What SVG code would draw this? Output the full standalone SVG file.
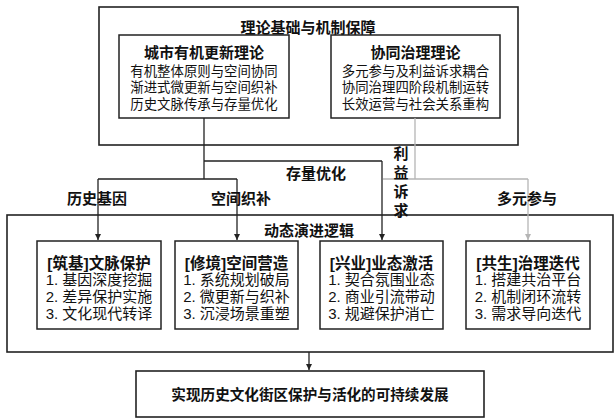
<svg xmlns="http://www.w3.org/2000/svg" width="615" height="420" viewBox="0 0 615 420">
<defs>
<style>
.box{fill:#fff;stroke:#222;stroke-width:1.6}
.sub{fill:#fff;stroke:#222;stroke-width:1.5}
.t{font-family:"Liberation Sans","Noto Sans CJK SC",sans-serif;fill:#111;text-anchor:middle;dominant-baseline:central}
.b{font-weight:bold}
.ln{fill:none;stroke:#222;stroke-width:1.3}
.gl{fill:none;stroke:#b5b5b5;stroke-width:1.3}
</style>
<marker id="ah" viewBox="0 0 8 8" refX="8" refY="4" markerWidth="6" markerHeight="6" orient="auto" markerUnits="userSpaceOnUse">
<path d="M0,0 L8,4 L0,8 z" fill="#222"/>
</marker>
<marker id="ahg" viewBox="0 0 8 8" refX="8" refY="4" markerWidth="6" markerHeight="6" orient="auto" markerUnits="userSpaceOnUse">
<path d="M0,0 L8,4 L0,8 z" fill="#b5b5b5"/>
</marker>
</defs>
<rect width="615" height="420" fill="#fff"/>

<g id="theory">
<rect class="box" x="99" y="7" width="419" height="138"/>
<text class="t b" x="308" y="27" font-size="15">理论基础与机制保障</text>
</g>
<g id="organic">
<rect class="sub" x="119" y="35" width="170" height="83"/>
<text class="t b" x="204" y="52" font-size="15">城市有机更新理论</text>
<text class="t" x="204" y="71" font-size="13.4">有机整体原则与空间协同</text>
<text class="t" x="204" y="87.5" font-size="13.4">渐进式微更新与空间织补</text>
<text class="t" x="204" y="104" font-size="13.4">历史文脉传承与存量优化</text>
</g>
<g id="governance">
<rect class="sub" x="331" y="35" width="169" height="83"/>
<text class="t b" x="415.5" y="52" font-size="15">协同治理理论</text>
<text class="t" x="415.5" y="71" font-size="13.4">多元参与及利益诉求耦合</text>
<text class="t" x="415.5" y="87.5" font-size="13.4">协同治理四阶段机制运转</text>
<text class="t" x="415.5" y="104" font-size="13.4">长效运营与社会关系重构</text>
</g>

<g id="dynamic">
<rect class="box" x="7" y="215" width="606" height="137"/>
<text class="t b" x="309" y="230" font-size="15">动态演进逻辑</text>
</g>
<g id="n1">
<rect class="sub" x="37" y="241" width="124" height="88"/>
<text class="t b" x="99" y="263" font-size="15.5">[筑基]文脉保护</text>
<text class="t" x="99" y="279.5" font-size="15">1. 基因深度挖掘</text>
<text class="t" x="99" y="296.5" font-size="15">2. 差异保护实施</text>
<text class="t" x="99" y="313.5" font-size="15">3. 文化现代转译</text>
</g>
<g id="n2">
<rect class="sub" x="175" y="241" width="123" height="88"/>
<text class="t b" x="236.5" y="263" font-size="15.5">[修境]空间营造</text>
<text class="t" x="236.5" y="279.5" font-size="15">1. 系统规划破局</text>
<text class="t" x="236.5" y="296.5" font-size="15">2. 微更新与织补</text>
<text class="t" x="236.5" y="313.5" font-size="15">3. 沉浸场景重塑</text>
</g>
<g id="n3">
<rect class="sub" x="320" y="241" width="123" height="88"/>
<text class="t b" x="381.5" y="263" font-size="15.5">[兴业]业态激活</text>
<text class="t" x="381.5" y="279.5" font-size="15">1. 契合氛围业态</text>
<text class="t" x="381.5" y="296.5" font-size="15">2. 商业引流带动</text>
<text class="t" x="381.5" y="313.5" font-size="15">3. 规避保护消亡</text>
</g>
<g id="n4">
<rect class="sub" x="466" y="241" width="124" height="88"/>
<text class="t b" x="528" y="263" font-size="15.5">[共生]治理迭代</text>
<text class="t" x="528" y="279.5" font-size="15">1. 搭建共治平台</text>
<text class="t" x="528" y="296.5" font-size="15">2. 机制闭环流转</text>
<text class="t" x="528" y="313.5" font-size="15">3. 需求导向迭代</text>
</g>

<g id="goal">
<rect class="box" x="136" y="371" width="348" height="46"/>
<text class="t b" x="310" y="395" font-size="14.6">实现历史文化街区保护与活化的可持续发展</text>
</g>

<g id="connectors">
<path class="gl" d="M415,118 V179 M383,179 H528"/>
<path class="gl" d="M528,179 V240" marker-end="url(#ahg)"/>
<path class="ln" d="M204,118 V179 M204,161 H382 M98,179 H237"/>
<path class="ln" d="M382,161 V240" marker-end="url(#ah)"/>
<path class="ln" d="M98,179 V240" marker-end="url(#ah)"/>
<path class="ln" d="M237,179 V240" marker-end="url(#ah)"/>
<path class="ln" d="M309,352 V370" marker-end="url(#ah)"/>
<text class="t b" x="316" y="173" font-size="15">存量优化</text>
<text class="t b" x="97" y="198" font-size="15">历史基因</text>
<text class="t b" x="241" y="198" font-size="15">空间织补</text>
<text class="t b" x="527" y="198" font-size="15">多元参与</text>
<text class="t b" x="401" y="153" font-size="15">利</text>
<text class="t b" x="401" y="172" font-size="15">益</text>
<text class="t b" x="401" y="191" font-size="15">诉</text>
<text class="t b" x="401" y="210" font-size="15">求</text>
</g>
</svg>
